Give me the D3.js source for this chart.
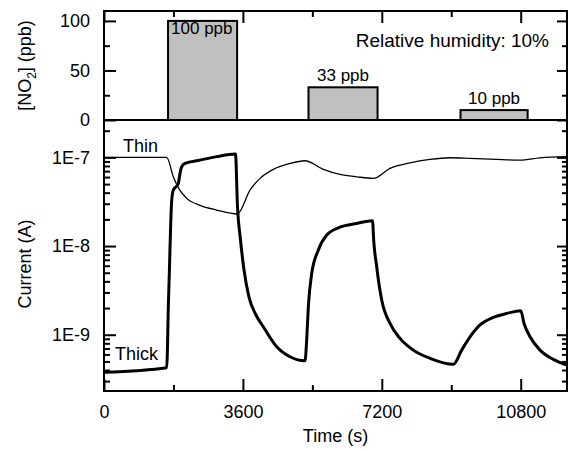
<!DOCTYPE html>
<html>
<head>
<meta charset="utf-8">
<script src="https://cdn.jsdelivr.net/npm/d3@7"></script>
<style>
body{margin:0;background:#fff;}
svg text{font-family:"Liberation Sans",Arial,sans-serif;fill:#000;}
</style>
</head>
<body>
<svg id="chart" width="571" height="451"></svg>
<script>
// NO2 exposure pulses
var pulseStart = [1660, 5300, 9240];
var pulseEnd = [3450, 7090, 10980];
var pulseConc = [100, 33, 10];
var pulseLabel = ["100 ppb", "33 ppb", "10 ppb"];

// thin film current
var thinTime = [0, 1625, 1796, 1952, 2144, 2488, 2921, 3455, 3784, 4044, 4389, 4821, 5210, 5684, 6115, 6550, 6980, 7413, 7932, 8450, 8968, 9487, 10179, 10780, 11301, 12000];
var thinCurrent = [1.0e-7, 1.0e-7, 6.04e-8, 4.35e-8, 3.45e-8, 2.88e-8, 2.55e-8, 2.30e-8, 4.27e-8, 5.80e-8, 7.33e-8, 8.55e-8, 9.16e-8, 7.33e-8, 6.43e-8, 6.04e-8, 5.80e-8, 7.52e-8, 8.69e-8, 9.49e-8, 9.90e-8, 9.75e-8, 9.49e-8, 9.33e-8, 9.90e-8, 1.02e-7];

// thick film current
var thickTime = [0, 1625, 1672, 1693, 1729, 1755, 1796, 1866, 1926, 1970, 2014, 2100, 2488, 2921, 3408, 3460, 3538, 3629, 3758, 3940, 4129, 4476, 4821, 5210, 5253, 5296, 5384, 5555, 5773, 6117, 6550, 6965, 6980, 7068, 7198, 7413, 7672, 8017, 8450, 9054, 9270, 9487, 9746, 10091, 10439, 10801, 10887, 11042, 11301, 11646, 12000];
var thickCurrent = [3.77e-10, 4.25e-10, 2.46e-9, 4.92e-9, 1.80e-8, 3.30e-8, 4.28e-8, 4.66e-8, 5.09e-8, 6.61e-8, 7.84e-8, 8.56e-8, 9.32e-8, 1.02e-7, 1.09e-7, 2.76e-8, 1.17e-8, 5.36e-9, 2.66e-9, 1.67e-9, 1.23e-9, 7.32e-10, 5.65e-10, 5.09e-10, 8.71e-10, 2.07e-9, 4.92e-9, 9.01e-9, 1.33e-8, 1.63e-8, 1.80e-8, 1.93e-8, 1.39e-8, 5.85e-9, 2.46e-9, 1.34e-9, 9.09e-10, 6.71e-10, 5.42e-10, 4.64e-10, 6.71e-10, 9.48e-10, 1.29e-9, 1.57e-9, 1.74e-9, 1.87e-9, 1.34e-9, 9.48e-10, 6.71e-10, 5.27e-10, 4.55e-10];

var timeTicks = [0, 3600, 7200, 10800];
var timeMinor = [1800, 5400, 9000];
var concTicks = [0, 50, 100];
var concMinor = [25, 75];
var currentTicks = [1e-9, 1e-8, 1e-7];
var currentTickLabels = ["1E-9", "1E-8", "1E-7"];

var svg = d3.select("#chart");
var pLeft = 104, pRight = 567, pTop = 11, pMid = 120, pBottom = 391;

var x = d3.scaleLinear().domain([0, 12000]).range([pLeft, pRight]);
var yConc = d3.scaleLinear().domain([0, 110]).range([pMid, pTop]);
var yCur = d3.scaleLog().domain([2.32e-10, 2.64e-7]).range([pBottom, pMid]);
var currentMinor = yCur.ticks().filter(function(d){ return currentTicks.indexOf(d) < 0; });

//ticks helper
function addAxis(axis, tx, ty, fmt, size, pad){
	var g = svg.append("g")
		.attr("transform", "translate(" + tx + "," + ty + ")")
		.call(axis.tickSize(-size).tickPadding(pad).tickFormat(fmt));
	g.select(".domain").remove();
	g.selectAll("line").attr("stroke", "#000").attr("stroke-width", 2);
	g.selectAll("text").style("font-size", "18px").attr("fill", "#000");
	return g;
}
var none = function(){ return ""; };

//top panel bars
for(var i=0; i<pulseConc.length; i++){
	svg.append("rect")
		.attr("x", x(pulseStart[i]))
		.attr("y", yConc(pulseConc[i]))
		.attr("width", x(pulseEnd[i]) - x(pulseStart[i]))
		.attr("height", yConc(0) - yConc(pulseConc[i]))
		.attr("fill", "#c0c0c0")
		.attr("stroke", "#000")
		.attr("stroke-width", 2);
	var inside = yConc(pulseConc[i]) - 20 < pTop;
	svg.append("text")
		.text(pulseLabel[i])
		.attr("x", inside ? x(pulseStart[i]) + 3 : (x(pulseStart[i]) + x(pulseEnd[i])) / 2)
		.attr("y", inside ? yConc(pulseConc[i]) + 13 : yConc(pulseConc[i]) - 6)
		.attr("text-anchor", inside ? "start" : "middle")
		.style("font-size", "17px");
}

//top panel axes
addAxis(d3.axisLeft(yConc).tickValues(concTicks), pLeft, 0, d3.format("d"), 12, 14);
addAxis(d3.axisLeft(yConc).tickValues(concMinor), pLeft, 0, none, 6, 0);
addAxis(d3.axisRight(yConc).tickValues(concTicks), pRight, 0, none, 10, 0);
addAxis(d3.axisRight(yConc).tickValues(concMinor), pRight, 0, none, 5, 0);
addAxis(d3.axisTop(x).tickValues(timeTicks), 0, pTop, none, 12, 0);
addAxis(d3.axisTop(x).tickValues(timeMinor), 0, pTop, none, 6, 0);

//bottom panel axes
addAxis(d3.axisLeft(yCur).tickValues(currentTicks), pLeft, 0, function(d, i){ return currentTickLabels[i]; }, 12, 14);
addAxis(d3.axisLeft(yCur).tickValues(currentMinor), pLeft, 0, none, 6, 0);
addAxis(d3.axisRight(yCur).tickValues(currentTicks), pRight, 0, none, 10, 0);
addAxis(d3.axisRight(yCur).tickValues(currentMinor), pRight, 0, none, 5, 0);
addAxis(d3.axisBottom(x).tickValues(timeTicks), 0, pBottom, d3.format("d"), 12, 14);
addAxis(d3.axisBottom(x).tickValues(timeMinor), 0, pBottom, none, 6, 0);

//curves
var lineThin = d3.line()
	.x(function(d, i){ return x(thinTime[i]); })
	.y(function(d){ return yCur(d); })
	.curve(d3.curveMonotoneX);
var lineThick = d3.line()
	.x(function(d, i){ return x(thickTime[i]); })
	.y(function(d){ return yCur(d); })
	.curve(d3.curveMonotoneX);
svg.append("path")
	.attr("d", lineThin(thinCurrent))
	.attr("fill", "none")
	.attr("stroke", "#000")
	.attr("stroke-width", 1.3);
svg.append("path")
	.attr("d", lineThick(thickCurrent))
	.attr("fill", "none")
	.attr("stroke", "#000")
	.attr("stroke-width", 3)
	.attr("stroke-linejoin", "round");

//frames
svg.append("rect").attr("x", pLeft).attr("y", pTop).attr("width", pRight - pLeft).attr("height", pMid - pTop)
	.attr("fill", "none").attr("stroke", "#000").attr("stroke-width", 2);
svg.append("rect").attr("x", pLeft).attr("y", pMid).attr("width", pRight - pLeft).attr("height", pBottom - pMid)
	.attr("fill", "none").attr("stroke", "#000").attr("stroke-width", 2);

//labels
svg.append("text").text("Relative humidity: 10%")
	.attr("x", pRight - 18).attr("y", 47).attr("text-anchor", "end").style("font-size", "19px");
svg.append("text").text("Thin").attr("x", 123).attr("y", 152).style("font-size", "18px");
svg.append("text").text("Thick").attr("x", 115).attr("y", 360).style("font-size", "18px");

svg.append("text").text("Time (s)")
	.attr("x", (pLeft + pRight) / 2).attr("y", 442).attr("text-anchor", "middle").style("font-size", "18px");

var no2 = svg.append("text")
	.attr("transform", "translate(31," + (pTop + pMid) / 2 + ") rotate(-90)")
	.attr("text-anchor", "middle").style("font-size", "18px");
no2.append("tspan").text("[NO");
no2.append("tspan").text("2").attr("dy", 5).style("font-size", "12px");
no2.append("tspan").text("] (ppb)").attr("dy", -5);

svg.append("text").text("Current (A)")
	.attr("transform", "translate(31,264) rotate(-90)")
	.attr("text-anchor", "middle").style("font-size", "18px");
</script>
</body>
</html>
